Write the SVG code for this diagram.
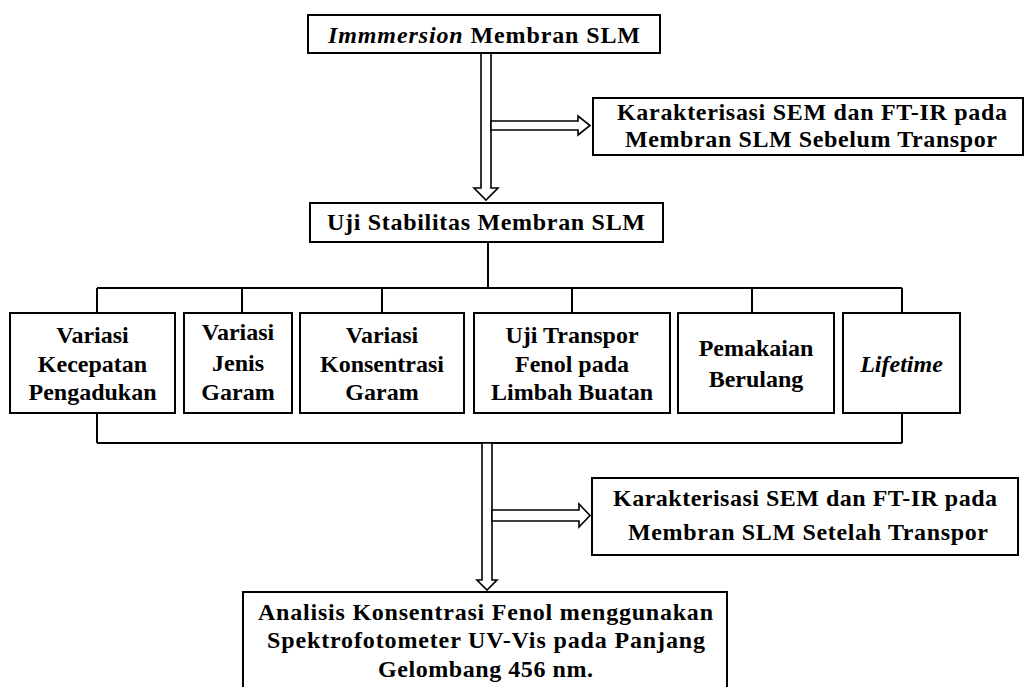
<svg xmlns="http://www.w3.org/2000/svg" width="1025" height="687" viewBox="0 0 1025 687">
<style>
.box{fill:#fff;stroke:#000;stroke-width:2}
.t{font-family:"Liberation Serif","Times New Roman",serif;font-weight:bold;font-size:24px;fill:#000;text-anchor:middle}
.i{font-style:italic}
.ln{fill:none;stroke:#000;stroke-width:2}
.arr{fill:#fff;stroke:#000;stroke-width:1.6;stroke-linejoin:miter}
</style>
<rect width="1025" height="687" fill="#fff"/>
<g id="connectors">
<path class="ln" d="M488,242V288M97,288H902M97,288V313M242,288V313M382,288V313M572,288V313M752,288V313M902,288V313M97,413V443M902,413V443M97,443H902"/>
<polygon class="arr" points="481,53 491,53 491,188 498,188 486,200 474,188 481,188"/>
<polygon class="arr" points="491,121 578,121 578,116 590,125.5 578,135 578,130 491,130"/>
<polygon class="arr" points="482,443 492,443 492,580 497,580 487,590 477,580 482,580"/>
<polygon class="arr" points="492,510 579,510 579,504 590,515.5 579,527 579,521 492,521"/>
</g>
<g id="n-immersion">
<rect class="box" x="308" y="15" width="352" height="38"/>
<text class="t" x="484" y="43" textLength="312" lengthAdjust="spacing"><tspan class="i">Immmersion</tspan> Membran SLM</text>
</g>
<g id="n-karak1">
<rect class="box" x="593" y="98" width="430" height="57"/>
<text class="t" x="812" y="120" textLength="390" lengthAdjust="spacing">Karakterisasi SEM dan FT-IR pada</text>
<text class="t" x="811" y="147" textLength="372" lengthAdjust="spacing">Membran SLM Sebelum Transpor</text>
</g>
<g id="n-uji">
<rect class="box" x="310" y="203" width="353" height="39"/>
<text class="t" x="486" y="230" textLength="318" lengthAdjust="spacing">Uji Stabilitas Membran SLM</text>
</g>
<g id="n-kecepatan">
<rect class="box" x="10" y="313" width="165" height="100"/>
<text class="t" x="92.5" y="343">Variasi</text>
<text class="t" x="92.5" y="372">Kecepatan</text>
<text class="t" x="92.5" y="400">Pengadukan</text>
</g>
<g id="n-jenis">
<rect class="box" x="184" y="313" width="108" height="100"/>
<text class="t" x="238" y="340">Variasi</text>
<text class="t" x="238" y="371">Jenis</text>
<text class="t" x="238" y="400">Garam</text>
</g>
<g id="n-konsentrasi">
<rect class="box" x="300" y="313" width="164" height="100"/>
<text class="t" x="382" y="343">Variasi</text>
<text class="t" x="382" y="372">Konsentrasi</text>
<text class="t" x="382" y="400">Garam</text>
</g>
<g id="n-transpor">
<rect class="box" x="474" y="313" width="196" height="100"/>
<text class="t" x="572" y="343">Uji Transpor</text>
<text class="t" x="572" y="372">Fenol pada</text>
<text class="t" x="572" y="400">Limbah Buatan</text>
</g>
<g id="n-pemakaian">
<rect class="box" x="678" y="313" width="156" height="100"/>
<text class="t" x="756" y="356">Pemakaian</text>
<text class="t" x="756" y="387">Berulang</text>
</g>
<g id="n-lifetime">
<rect class="box" x="843" y="313" width="117" height="100"/>
<text class="t i" x="901.5" y="372">Lifetime</text>
</g>
<g id="n-karak2">
<rect class="box" x="592" y="478" width="426" height="77"/>
<text class="t" x="805" y="506" textLength="384" lengthAdjust="spacing">Karakterisasi SEM dan FT-IR pada</text>
<text class="t" x="808" y="540" textLength="360" lengthAdjust="spacing">Membran SLM Setelah Transpor</text>
</g>
<g id="n-analisis">
<rect class="box" x="243" y="592" width="484" height="110"/>
<text class="t" x="485.5" y="620" textLength="455" lengthAdjust="spacing">Analisis Konsentrasi Fenol menggunakan</text>
<text class="t" x="486" y="648" textLength="438" lengthAdjust="spacing">Spektrofotometer UV-Vis pada Panjang</text>
<text class="t" x="485.5" y="677" textLength="215" lengthAdjust="spacing">Gelombang 456 nm.</text>
</g>
</svg>
